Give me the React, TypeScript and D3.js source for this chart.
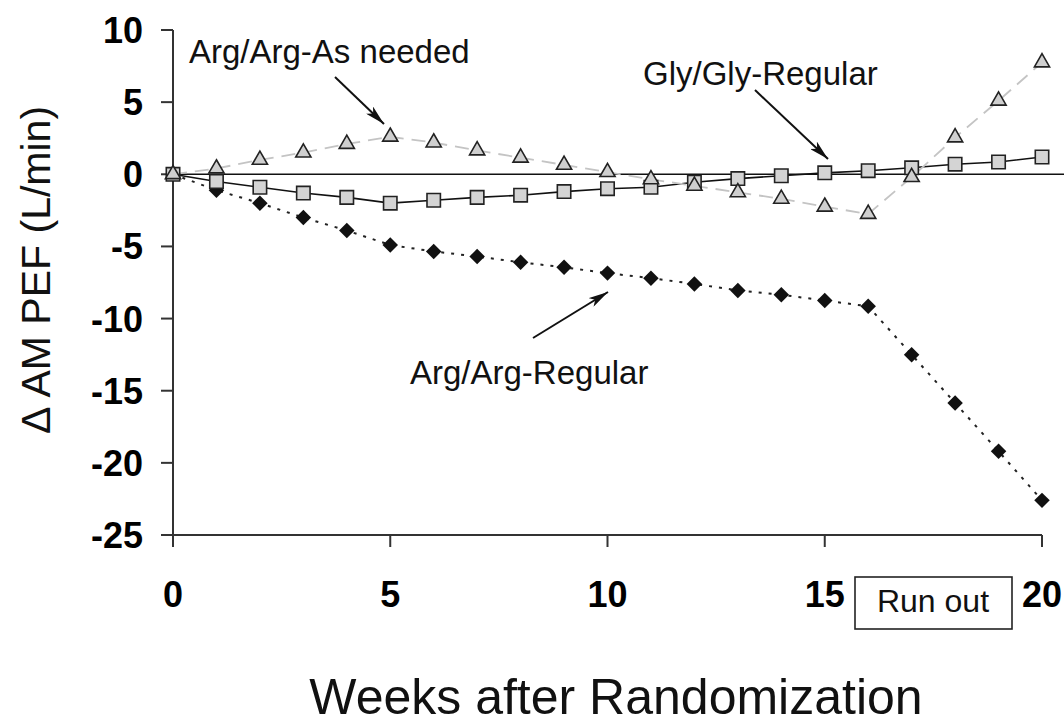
import React, { useEffect, useRef } from "react";
import * as d3 from "d3";

// weeks 0..20
const weeks = d3.range(0, 21);

// Arg/Arg - As needed (triangles, dashed grey)
const argAsNeeded = [
    0, 0.4, 1.0, 1.5, 2.1, 2.6, 2.2, 1.65, 1.15, 0.65, 0.15, -0.35, -0.8, -1.25,
    -1.7, -2.25, -2.75, -0.2, 2.55, 5.1, 7.75,
];

// Gly/Gly - Regular (squares, solid)
const glyRegular = [
    0, -0.5, -0.9, -1.3, -1.6, -2.0, -1.8, -1.6, -1.45, -1.2, -1.0, -0.9, -0.55,
    -0.3, -0.1, 0.1, 0.25, 0.45, 0.7, 0.85, 1.2,
];

// Arg/Arg - Regular (diamonds, dotted)
const argRegular = [
    0, -1.1, -2.0, -3.0, -3.9, -4.9, -5.35, -5.7, -6.1, -6.45, -6.85, -7.2, -7.6,
    -8.05, -8.35, -8.75, -9.15, -12.5, -15.85, -19.2, -22.6,
];

const xTicks = [0, 5, 10, 15, 20];
const yTicks = [10, 5, 0, -5, -10, -15, -20, -25];

const W = 1064;
const H = 726;

const App: React.FC = () => {
    const svgRef = useRef<SVGSVGElement>(null);

    useEffect(() => {
        document.body.style.margin = "0";
        if (!svgRef.current) return;
        const svg = d3.select(svgRef.current);
        svg.selectAll("*").remove();

        const x = d3.scaleLinear().domain([0, 20]).range([173, 1042]);
        const y = d3.scaleLinear().domain([-25, 10]).range([535, 30]);
        const font = "Arial, 'Liberation Sans', Helvetica, sans-serif";

        svg.append("rect").attr("width", W).attr("height", H).attr("fill", "#fff");

        // arrow head marker
        svg.append("defs")
            .append("marker")
            .attr("id", "head")
            .attr("viewBox", "0 0 20 10")
            .attr("refX", 20)
            .attr("refY", 5)
            .attr("markerWidth", 20)
            .attr("markerHeight", 10)
            .attr("markerUnits", "userSpaceOnUse")
            .attr("orient", "auto")
            .append("path")
            .attr("d", "M0,0 L20,5 L0,10 L5,5 Z")
            .attr("fill", "#111");

        // axes
        const axisColor = "#333";
        svg.append("line")
            .attr("x1", x(0)).attr("x2", x(0))
            .attr("y1", y(10)).attr("y2", y(-25) + 12)
            .attr("stroke", axisColor).attr("stroke-width", 2);
        svg.append("line")
            .attr("x1", x(0) - 12).attr("x2", x(20))
            .attr("y1", y(-25)).attr("y2", y(-25))
            .attr("stroke", axisColor).attr("stroke-width", 2);

        // y ticks + labels
        const yt = svg.append("g");
        yt.selectAll("line")
            .data(yTicks)
            .enter()
            .append("line")
            .attr("x1", x(0) - 12)
            .attr("x2", x(0))
            .attr("y1", (d) => y(d))
            .attr("y2", (d) => y(d))
            .attr("stroke", axisColor)
            .attr("stroke-width", 2);
        yt.selectAll("text")
            .data(yTicks)
            .enter()
            .append("text")
            .attr("x", 143)
            .attr("y", (d) => y(d) + 13)
            .attr("text-anchor", "end")
            .attr("font-family", font)
            .attr("font-weight", "bold")
            .attr("font-size", 36)
            .text((d) => String(d));

        // x ticks + labels
        const xt = svg.append("g");
        xt.selectAll("line")
            .data(xTicks)
            .enter()
            .append("line")
            .attr("x1", (d) => x(d))
            .attr("x2", (d) => x(d))
            .attr("y1", y(-25))
            .attr("y2", y(-25) + 12)
            .attr("stroke", axisColor)
            .attr("stroke-width", 2);
        xt.selectAll("text")
            .data(xTicks)
            .enter()
            .append("text")
            .attr("x", (d) => x(d))
            .attr("y", 607)
            .attr("text-anchor", "middle")
            .attr("font-family", font)
            .attr("font-weight", "bold")
            .attr("font-size", 36)
            .text((d) => String(d));

        // zero reference line
        svg.append("line")
            .attr("x1", x(0)).attr("x2", W)
            .attr("y1", y(0)).attr("y2", y(0))
            .attr("stroke", "#111").attr("stroke-width", 1.6);

        const line = d3
            .line<number>()
            .x((_, i) => x(weeks[i]))
            .y((d) => y(d));

        // series lines
        svg.append("path")
            .attr("d", line(argRegular))
            .attr("fill", "none")
            .attr("stroke", "#222")
            .attr("stroke-width", 2)
            .attr("stroke-dasharray", "3,7");
        svg.append("path")
            .attr("d", line(glyRegular))
            .attr("fill", "none")
            .attr("stroke", "#111")
            .attr("stroke-width", 1.6);
        svg.append("path")
            .attr("d", line(argAsNeeded))
            .attr("fill", "none")
            .attr("stroke", "#c4c4c4")
            .attr("stroke-width", 1.8)
            .attr("stroke-dasharray", "14,8");

        // markers
        const diamond = d3.symbol(d3.symbolSquare, 120)();
        svg.append("g")
            .selectAll("path")
            .data(argRegular)
            .enter()
            .append("path")
            .attr("d", diamond)
            .attr("transform", (d, i) => `translate(${x(weeks[i])},${y(d)}) rotate(45)`)
            .attr("fill", "#111");

        const square = d3.symbol(d3.symbolSquare, 180)();
        svg.append("g")
            .selectAll("path")
            .data(glyRegular)
            .enter()
            .append("path")
            .attr("d", square)
            .attr("transform", (d, i) => `translate(${x(weeks[i])},${y(d)})`)
            .attr("fill", "#d4d4d4")
            .attr("stroke", "#222")
            .attr("stroke-width", 1.6);

        const tri = d3.symbol(d3.symbolTriangle, 100)();
        svg.append("g")
            .selectAll("path")
            .data(argAsNeeded)
            .enter()
            .append("path")
            .attr("d", tri)
            .attr("transform", (d, i) => `translate(${x(weeks[i])},${y(d)})`)
            .attr("fill", "#cfcfcf")
            .attr("stroke", "#222")
            .attr("stroke-width", 1.6);

        // annotations
        const label = (tx: number, ty: number, s: string) =>
            svg.append("text")
                .attr("x", tx)
                .attr("y", ty)
                .attr("font-family", font)
                .attr("font-size", 33)
                .attr("fill", "#111")
                .text(s);
        const arrow = (x1: number, y1: number, x2: number, y2: number) =>
            svg.append("line")
                .attr("x1", x1).attr("y1", y1)
                .attr("x2", x2).attr("y2", y2)
                .attr("stroke", "#111")
                .attr("stroke-width", 2)
                .attr("marker-end", "url(#head)");

        label(189, 63, "Arg/Arg-As needed");
        arrow(335, 77, 384, 124);
        label(643, 85, "Gly/Gly-Regular");
        arrow(755, 90, 828, 159);
        label(410, 384, "Arg/Arg-Regular");
        arrow(533, 338, 608, 292);

        // run out box
        svg.append("rect")
            .attr("x", 855).attr("y", 577)
            .attr("width", 157).attr("height", 52)
            .attr("fill", "#fff")
            .attr("stroke", "#222")
            .attr("stroke-width", 1.6);
        svg.append("text")
            .attr("x", 933)
            .attr("y", 612)
            .attr("text-anchor", "middle")
            .attr("font-family", font)
            .attr("font-size", 32)
            .attr("fill", "#111")
            .text("Run out");

        // axis titles
        svg.append("text")
            .attr("x", 616)
            .attr("y", 714)
            .attr("text-anchor", "middle")
            .attr("font-family", font)
            .attr("font-size", 50)
            .attr("fill", "#111")
            .text("Weeks after Randomization");
        svg.append("text")
            .attr("transform", `translate(50,270) rotate(-90)`)
            .attr("text-anchor", "middle")
            .attr("font-family", font)
            .attr("font-size", 41)
            .attr("fill", "#111")
            .text("\u0394 AM PEF (L/min)");
    }, []);

    return <svg ref={svgRef} width={W} height={H} style={{ display: "block" }} />;
};

export default App;
